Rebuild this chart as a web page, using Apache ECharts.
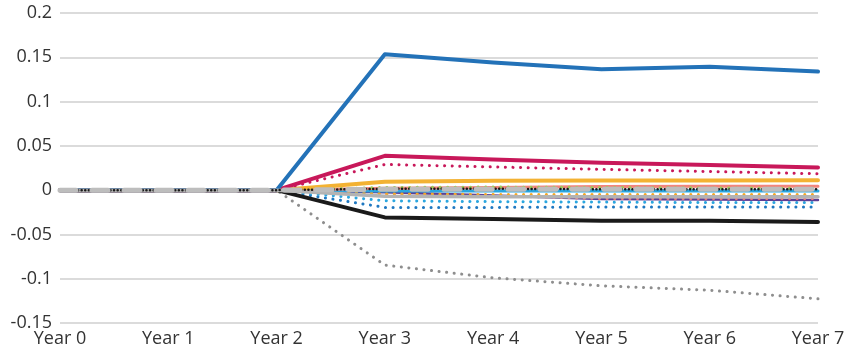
<!DOCTYPE html>
<html>
<head>
<meta charset="utf-8">
<script src="https://cdn.jsdelivr.net/npm/echarts@6/dist/echarts.min.js"></script>
<style>
  html, body { margin: 0; padding: 0; background: #fff; }
  #chart { width: 854px; height: 358px; }
</style>
</head>
<body>
<div id="chart"></div>
<script>
// Category axis
const years = ['Year 0', 'Year 1', 'Year 2', 'Year 3', 'Year 4', 'Year 5', 'Year 6', 'Year 7'];

// Series values (change relative to baseline)
const blueSolid      = [0, 0, 0, 0.1535, 0.1441, 0.1366, 0.1392, 0.1339];
const crimsonSolid   = [0, 0, 0, 0.0387, 0.0345, 0.0310, 0.0285, 0.0255];
const crimsonDotted  = [0, 0, 0, 0.0290, 0.0262, 0.0235, 0.0210, 0.0185];
const orangeSolid    = [0, 0, 0, 0.0095, 0.0105, 0.0110, 0.0110, 0.0112];
const salmonSolid    = [0, 0, 0, 0.0020, 0.0030, 0.0040, 0.0045, 0.0045];
const greenDotted    = [0, 0, 0, 0.0030, 0.0035, 0.0030, 0.0025, 0.0020];
const grayDashed     = [0, 0, 0, 0.0010, 0.0010, 0.0010, 0.0010, 0.0010];
const blackDotted    = [0, 0, 0, 0.0015, 0.0015, 0.0010, 0.0010, 0.0010];
const lightBlueSolid = [0, 0, 0, -0.0010, -0.0010, -0.0010, -0.0010, -0.0010];
const orangeDotted   = [0, 0, 0, -0.0040, -0.0050, -0.0050, -0.0050, -0.0050];
const graySolid      = [0, 0, 0, -0.0070, -0.0075, -0.0075, -0.0075, -0.0075];
const salmonDotted   = [0, 0, 0, -0.0045, -0.0065, -0.0095, -0.0095, -0.0095];
const purpleSolid    = [0, 0, 0, -0.0025, -0.0060, -0.0100, -0.0105, -0.0110];
const lightBlueDot   = [0, 0, 0, -0.0120, -0.0130, -0.0135, -0.0140, -0.0140];
const blueDotted     = [0, 0, 0, -0.0195, -0.0195, -0.0190, -0.0190, -0.0190];
const blackSolid     = [0, 0, 0, -0.0308, -0.0325, -0.0345, -0.0345, -0.0360];
const grayDotted     = [0, 0, 0, -0.0846, -0.0990, -0.1080, -0.1130, -0.1227];

// Y axis range
const yMin = -0.15, yMax = 0.2, yStep = 0.05;

const DOT = [0.1, 7.5];

function line(name, data, color, width, type) {
  return {
    name: name,
    type: 'line',
    data: data,
    showSymbol: false,
    symbol: 'none',
    smooth: false,
    lineStyle: { color: color, width: width, type: type || 'solid', cap: 'round', join: 'round' },
    emphasis: { disabled: true }
  };
}

const chart = echarts.init(document.getElementById('chart'), null, { renderer: 'canvas' });
chart.setOption({
  animation: false,
  backgroundColor: '#ffffff',
  grid: { left: 60, right: 36, top: 13, bottom: 35, containLabel: false },
  xAxis: {
    type: 'category',
    data: years,
    boundaryGap: false,
    axisLine: { show: false },
    axisTick: { show: false },
    splitLine: { show: false },
    axisLabel: {
      color: '#333333',
      fontFamily: 'Open Sans',
      fontSize: 18,
      margin: 7,
      interval: 0
    }
  },
  yAxis: {
    type: 'value',
    min: yMin,
    max: yMax,
    interval: yStep,
    axisLine: { show: false },
    axisTick: { show: false },
    splitLine: { lineStyle: { color: '#cfcfcf', width: 1.5 } },
    axisLabel: {
      color: '#333333',
      fontFamily: 'Open Sans',
      fontSize: 18,
      margin: 8,
      formatter: function (v) { return String(Math.round(v * 100) / 100); }
    }
  },
  series: [
    line('grayDotted', grayDotted, '#8e8e8e', 3, DOT),
    line('blueDotted', blueDotted, '#1f78c1', 3, DOT),
    line('lightBlueDot', lightBlueDot, '#2aa6df', 3, DOT),
    line('purpleSolid', purpleSolid, '#5d3f95', 2.5),
    line('salmonDotted', salmonDotted, '#f07f78', 3, DOT),
    line('orangeDotted', orangeDotted, '#f5a623', 3, DOT),
    line('lightBlueSolid', lightBlueSolid, '#2aa6df', 3),
    line('salmonSolid', salmonSolid, '#f2857c', 3),
    line('greenDotted', greenDotted, '#9bcb5a', 3, DOT),
    line('orangeSolid', orangeSolid, '#f3b233', 4),
    line('crimsonDotted', crimsonDotted, '#c8185a', 3, DOT),
    line('crimsonSolid', crimsonSolid, '#c8185a', 4),
    line('blackSolid', blackSolid, '#1a1a1a', 4),
    line('blueSolid', blueSolid, '#2372b8', 4),
    // flat stretch at zero: gray solid under the dotted/dashed baseline pair
    line('graySolid', graySolid, '#b3b3b3', 3.5),
    line('blackDotted', blackDotted, '#1a1a1a', 2.5, [0.1, 3.5]),
    line('grayDashed', grayDashed, '#bdbdbd', 5, [16, 16])
  ]
});
</script>
</body>
</html>
